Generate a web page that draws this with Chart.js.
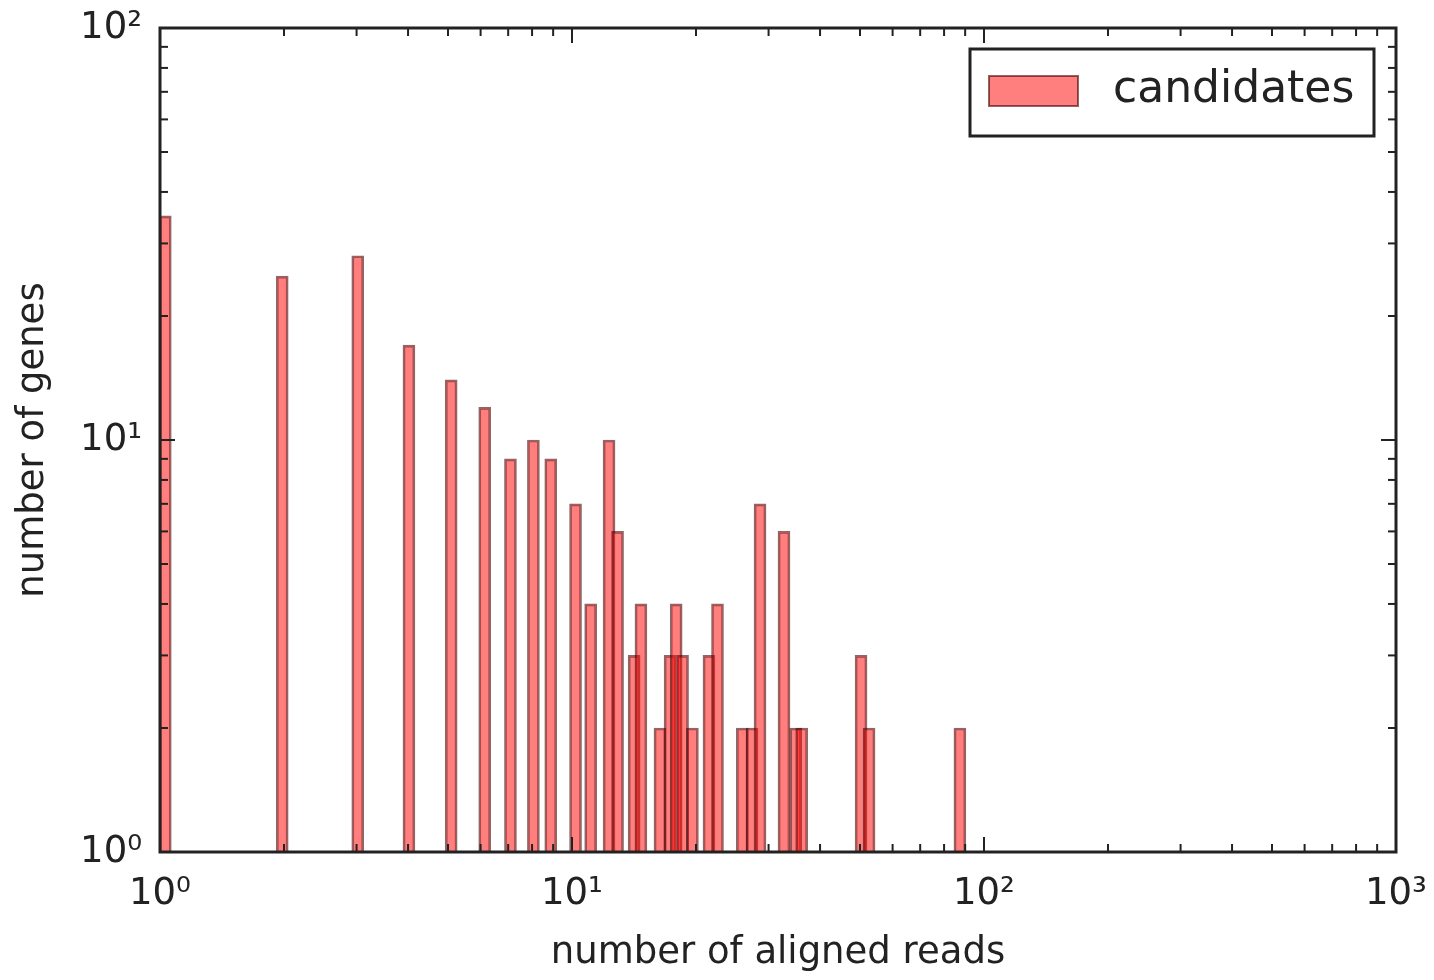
<!DOCTYPE html>
<html>
<head>
<meta charset="utf-8">
<title>number of aligned reads</title>
<script src="https://cdn.jsdelivr.net/npm/chart.js@4/dist/chart.umd.min.js"></script>
<style>
  html, body { margin: 0; padding: 0; background: #fff; }
  #wrap { width: 1434px; height: 980px; }
</style>
</head>
<body>
<div id="wrap"><canvas id="hist" width="1434" height="980"></canvas></div>
<script>
// ===== Data =====
// bar centres on the x axis (number of aligned reads)
const readCounts = [1.03, 1.98, 3.02, 4.02, 5.09, 6.14, 7.09, 8.06, 8.88, 10.2,
                    11.1, 12.3, 12.9, 14.15, 14.7, 16.35, 17.3, 17.9, 18.55, 19.6,
                    21.5, 22.55, 25.9, 27.35, 28.6, 32.7, 34.9, 36.1, 50.3, 52.6, 87.4];
// bar heights (number of genes)
const geneCounts = [35, 25, 28, 17, 14, 12, 9, 10, 9, 7,
                    4, 10, 6, 3, 4, 2, 3, 4, 3, 2,
                    3, 4, 2, 2, 7, 6, 2, 2, 3, 2, 2];
const seriesLabel = 'candidates';
const xTicks = [1, 10, 100, 1000];
const yTicks = [1, 10, 100];

const FONT = '"DejaVu Sans", "Liberation Sans", sans-serif';
const INK = '#222';
const BAR_FILL = 'rgba(255, 0, 0, 0.5)';
const BAR_EDGE = 'rgba(70, 0, 0, 0.6)';

const SUP = ['⁰', '¹', '²', '³', '⁴'];
function powLabel(v) { return '10' + SUP[Math.round(Math.log10(v))]; }

// minor tick values between decades
function minorValues(lo, hi) {
  const out = [];
  for (let d = lo; d < hi; d *= 10) {
    for (let m = 2; m <= 9; m++) out.push(d * m);
  }
  return out;
}

// ===== Frame with inward ticks on all four sides =====
const framePlugin = {
  id: 'frame',
  afterDatasetsDraw(chart) {
    const { ctx, chartArea: a, scales: { x, y } } = chart;
    ctx.save();
    ctx.strokeStyle = INK;
    ctx.lineWidth = 2;
    const tick = (px, py, dx, dy) => {
      ctx.beginPath(); ctx.moveTo(px, py); ctx.lineTo(px + dx, py + dy); ctx.stroke();
    };
    xTicks.forEach(v => {
      const px = x.getPixelForValue(v);
      tick(px, a.bottom, 0, -15); tick(px, a.top, 0, 15);
    });
    minorValues(1, 1000).forEach(v => {
      const px = x.getPixelForValue(v);
      tick(px, a.bottom, 0, -8); tick(px, a.top, 0, 8);
    });
    yTicks.forEach(v => {
      const py = y.getPixelForValue(v);
      tick(a.left, py, 15, 0); tick(a.right, py, -15, 0);
    });
    minorValues(1, 100).forEach(v => {
      const py = y.getPixelForValue(v);
      tick(a.left, py, 8, 0); tick(a.right, py, -8, 0);
    });
    ctx.lineWidth = 3;
    ctx.strokeRect(a.left, a.top, a.right - a.left, a.bottom - a.top);
    ctx.restore();
  }
};

// ===== Legend box in the upper right =====
const legendPlugin = {
  id: 'boxLegend',
  afterDraw(chart) {
    const { ctx } = chart;
    const ds = chart.data.datasets[0];
    ctx.save();
    ctx.fillStyle = '#fff';
    ctx.fillRect(970, 49, 404, 87);
    ctx.strokeStyle = INK;
    ctx.lineWidth = 3;
    ctx.strokeRect(970, 49, 404, 87);
    ctx.fillStyle = ds.backgroundColor;
    ctx.fillRect(989, 76, 89, 30);
    ctx.strokeStyle = ds.borderColor;
    ctx.lineWidth = 2;
    ctx.strokeRect(989, 76, 89, 30);
    ctx.fillStyle = INK;
    ctx.font = '44px ' + FONT;
    ctx.textBaseline = 'middle';
    ctx.fillText(ds.label, 1113, 91);
    ctx.restore();
  }
};

new Chart(document.getElementById('hist'), {
  type: 'bar',
  data: {
    datasets: [{
      label: seriesLabel,
      data: readCounts.map((v, i) => ({ x: v, y: geneCounts[i] })),
      backgroundColor: BAR_FILL,
      borderColor: BAR_EDGE,
      borderWidth: 2,
      borderSkipped: 'start',
      barThickness: 12
    }]
  },
  options: {
    responsive: false,
    devicePixelRatio: 1,
    animation: false,
    layout: { padding: { top: 28, right: 38, left: 0, bottom: 0 } },
    plugins: { legend: { display: false }, tooltip: { enabled: false } },
    scales: {
      x: {
        type: 'logarithmic',
        position: 'bottom',
        min: 1, max: 1000,
        offset: false,
        grid: { display: false, drawTicks: false, offset: false },
        border: { display: false },
        afterBuildTicks: s => { s.ticks = xTicks.map(v => ({ value: v })); },
        afterFit: s => { s.height = 128; s.paddingLeft = 0; s.paddingRight = 0; },
        ticks: {
          autoSkip: false, maxRotation: 0, padding: 20, color: INK,
          font: { family: FONT, size: 37 },
          callback: v => powLabel(v)
        },
        title: {
          display: true, text: 'number of aligned reads', color: INK,
          font: { family: FONT, size: 37 }, padding: { top: 0, bottom: 4 }
        }
      },
      y: {
        type: 'logarithmic',
        position: 'left',
        min: 1, max: 100,
        beginAtZero: false,
        grid: { display: false, drawTicks: false },
        border: { display: false },
        afterBuildTicks: s => { s.ticks = yTicks.map(v => ({ value: v })); },
        afterFit: s => { s.width = 160; s.paddingTop = 0; s.paddingBottom = 0; },
        ticks: {
          autoSkip: false, padding: 18, color: INK,
          font: { family: FONT, size: 37 },
          callback: v => powLabel(v)
        },
        title: {
          display: true, text: 'number of genes', color: INK,
          font: { family: FONT, size: 37 }, padding: { top: 11, bottom: 0 }
        }
      }
    }
  },
  plugins: [framePlugin, legendPlugin]
});
</script>
</body>
</html>
